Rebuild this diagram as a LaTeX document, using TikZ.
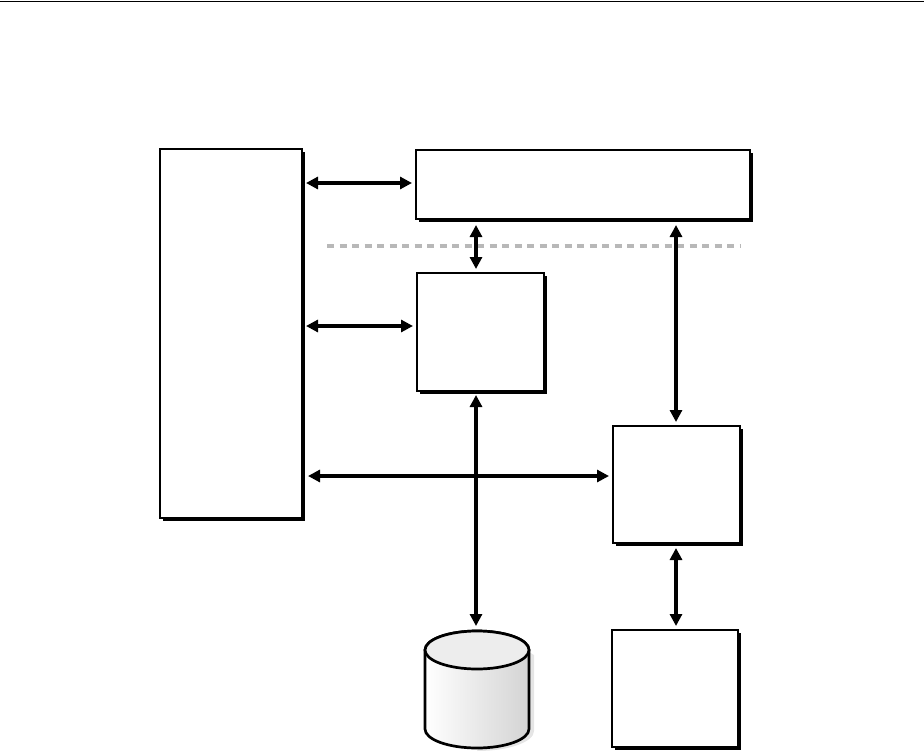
\documentclass[tikz,border=0pt]{standalone}
\usetikzlibrary{arrows.meta,shadows}
\begin{document}
\begin{tikzpicture}[x=1bp,y=-1bp,
  box/.style={draw=black, fill=white, line width=2.7bp, inner sep=0pt, outer sep=0pt,
    drop shadow={opacity=1, fill=black, shadow xshift=3bp, shadow yshift=-3bp}},
  arr/.style={line width=3.3bp, {Triangle[length=12bp,width=12bp]}-{Triangle[length=12bp,width=12bp]}, shorten <=4bp, shorten >=4bp},
  sep/.style={draw=black!28, line width=3.2bp, dash pattern=on 7bp off 5.5bp}]
\useasboundingbox (0,0) rectangle (924,752);
\draw[line width=1.6bp] (0,1.5) -- (924,1.5);
% boxes
\node[box, minimum width=142bp, minimum height=369bp] (L) at (231,333.5) {};
\node[box, minimum width=334bp, minimum height=69bp] (T) at (583,184.5) {};
\node[box, minimum width=127bp, minimum height=118bp] (M) at (480.5,332) {};
\node[box, minimum width=127bp, minimum height=117bp] (R) at (676.5,484.5) {};
\node[box, minimum width=126bp, minimum height=117bp] (B) at (675,688.5) {};
% separator
\coordinate (s1) at (327,246);
\coordinate (s2) at (740,246);
\draw[sep] (s1) -- (s2);
% database cylinder
\fill[black!10] (529,652) -- (534,655) -- (534,731) arc[start angle=0,end angle=90,x radius=57,y radius=20] -- cycle;
\shade[left color=white, right color=black!17, draw=black, line width=2.7bp]
  (425,650) -- (425,729) arc[start angle=180,end angle=0,x radius=52,y radius=19] -- (529,650)
  arc[start angle=0,end angle=-180,x radius=52,y radius=19] -- cycle;
\draw[fill=black!7, line width=2.7bp] (477,650) ellipse[x radius=52,y radius=19];
\coordinate (db) at (476,630);
% connector guides
\coordinate (y1) at (0,183);
\coordinate (y2) at (0,326);
\coordinate (y3) at (0,476);
\coordinate (x1) at (476,0);
\coordinate (x2) at (676,0);
% connectors
\draw[arr] (L.east |- y1) -- (T.west |- y1);
\draw[arr] (L.east |- y2) -- (M.west |- y2);
\draw[arr] ([xshift=2bp]L.east |- y3) -- (R.west |- y3);
\draw[arr] ([yshift=-2bp]T.south -| x1) -- (M.north -| x1);
\draw[arr] ([yshift=-2bp]T.south -| x2) -- (R.north -| x2);
\draw[arr] (M.south -| x1) -- (db);
\draw[arr] ([yshift=-1bp]R.south -| x2) -- (B.north -| x2);
\end{tikzpicture}
\end{document}
